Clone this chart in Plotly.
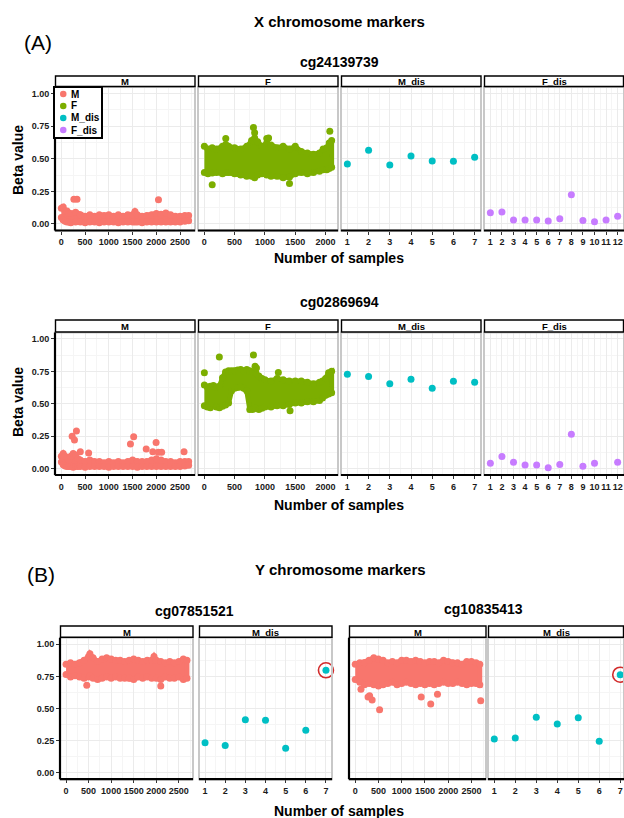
import plotly.graph_objects as go

W, H = 624, 818

COLORS = {"M": "#F8766D", "F": "#7CAE00", "M_dis": "#00BFC4", "F_dis": "#C77CFF"}
legend_names = ["M", "F", "M_dis", "F_dis"]

# ---------------- data ----------------
# Dense panels: upper / lower envelope of the point cloud per sample bin, plus isolated points.
# (A) cg24139739
a1_m_x = [1, 40, 80, 120, 160, 200, 300, 400, 500, 600, 700, 800, 900, 1000, 1100, 1200,
          1300, 1400, 1500, 1550, 1600, 1700, 1800, 1900, 2000, 2100, 2200, 2300, 2400, 2500, 2600, 2680]
a1_m_hi = [0.12, 0.13, 0.10, 0.10, 0.08, 0.08, 0.09, 0.07, 0.06, 0.07, 0.06, 0.07, 0.065, 0.07, 0.06, 0.07,
           0.06, 0.07, 0.07, 0.095, 0.07, 0.06, 0.065, 0.07, 0.08, 0.075, 0.085, 0.07, 0.06, 0.06, 0.065, 0.065]
a1_m_lo = [0.05, 0.03, 0.02, 0.015, 0.015, 0.01, 0.015, 0.015, 0.01, 0.015, 0.015, 0.01, 0.015, 0.015, 0.015, 0.01,
           0.015, 0.015, 0.015, 0.015, 0.015, 0.01, 0.015, 0.015, 0.015, 0.015, 0.015, 0.015, 0.015, 0.015, 0.02, 0.025]
a1_m_out_x = [265, 330, 2045]
a1_m_out_y = [0.19, 0.19, 0.185]

a1_f_x = [1, 60, 130, 200, 300, 354, 400, 500, 600, 700, 780, 830, 880, 950, 1030, 1100, 1200, 1300,
          1405, 1500, 1600, 1700, 1800, 1900, 1960, 2020, 2060, 2100]
a1_f_hi = [0.595, 0.575, 0.585, 0.575, 0.595, 0.61, 0.595, 0.585, 0.575, 0.595, 0.64, 0.66, 0.63, 0.595,
           0.62, 0.605, 0.585, 0.595, 0.575, 0.595, 0.555, 0.545, 0.535, 0.545, 0.575, 0.585, 0.62, 0.64]
a1_f_lo = [0.395, 0.385, 0.39, 0.395, 0.385, 0.395, 0.395, 0.385, 0.375, 0.365, 0.365, 0.355, 0.375, 0.385,
           0.375, 0.365, 0.365, 0.355, 0.36, 0.385, 0.395, 0.385, 0.395, 0.405, 0.415, 0.415, 0.425, 0.435]
a1_f_out_x = [130, 354, 810, 830, 1030, 1060, 1405, 2070]
a1_f_out_y = [0.30, 0.655, 0.74, 0.70, 0.655, 0.66, 0.31, 0.71]

a1_mdis_x = [1, 2, 3, 4, 5, 6, 7]
a1_mdis_y = [0.46, 0.565, 0.452, 0.522, 0.483, 0.48, 0.511]
a1_fdis_x = [1, 2, 3, 4, 5, 6, 7, 8, 9, 10, 11, 12]
a1_fdis_y = [0.087, 0.092, 0.031, 0.031, 0.031, 0.023, 0.041, 0.224, 0.026, 0.018, 0.031, 0.059]

# (A) cg02869694
a2_m_x = [1, 40, 80, 120, 160, 200, 250, 300, 350, 400, 500, 600, 700, 800, 900, 1000, 1100, 1200, 1300,
          1400, 1500, 1600, 1700, 1800, 1900, 2000, 2100, 2200, 2300, 2400, 2500, 2600, 2680]
a2_m_hi = [0.095, 0.115, 0.095, 0.075, 0.065, 0.095, 0.115, 0.105, 0.075, 0.065, 0.055, 0.065, 0.055, 0.055,
           0.045, 0.055, 0.045, 0.055, 0.045, 0.055, 0.065, 0.055, 0.055, 0.055, 0.065, 0.075, 0.065, 0.055,
           0.055, 0.045, 0.055, 0.055, 0.055]
a2_m_lo = [0.05, 0.03, 0.02, 0.015, 0.015, 0.015, 0.01, 0.015, 0.015, 0.015, 0.01, 0.015, 0.015, 0.015,
           0.015, 0.01, 0.015, 0.015, 0.015, 0.015, 0.015, 0.01, 0.015, 0.015, 0.015, 0.015, 0.015, 0.015,
           0.015, 0.015, 0.015, 0.02, 0.025]
a2_m_out_x = [228, 277, 318, 400, 575, 1455, 1523, 1787, 1925, 1995, 2040, 2112, 2583]
a2_m_out_y = [0.25, 0.22, 0.29, 0.13, 0.12, 0.19, 0.245, 0.15, 0.13, 0.20, 0.125, 0.125, 0.13]

a2_f_x = [1, 50, 100, 150, 200, 250, 300, 350, 400, 450, 500, 550, 600, 650, 700, 750, 800, 850, 900,
          950, 1000, 1100, 1200, 1300, 1400, 1500, 1600, 1700, 1800, 1900, 1950, 2000, 2050, 2100]
a2_f_hi = [0.645, 0.63, 0.635, 0.64, 0.63, 0.635, 0.70, 0.745, 0.755, 0.755, 0.755, 0.76, 0.765, 0.755,
           0.765, 0.755, 0.745, 0.74, 0.715, 0.695, 0.685, 0.675, 0.695, 0.685, 0.675, 0.675, 0.675, 0.665,
           0.655, 0.665, 0.675, 0.695, 0.74, 0.75]
a2_f_lo = [0.485, 0.475, 0.47, 0.485, 0.475, 0.47, 0.48, 0.49, 0.505, 0.6, 0.62, 0.625, 0.63, 0.62,
           0.6, 0.455, 0.455, 0.465, 0.455, 0.465, 0.475, 0.475, 0.485, 0.485, 0.495, 0.505, 0.505, 0.515,
           0.515, 0.525, 0.545, 0.565, 0.575, 0.585]
a2_f_out_x = [1, 248, 810, 837, 860, 1221, 1414]
a2_f_out_y = [0.74, 0.86, 0.876, 0.79, 0.775, 0.742, 0.445]

a2_mdis_x = [1, 2, 3, 4, 5, 6, 7]
a2_mdis_y = [0.727, 0.711, 0.654, 0.69, 0.619, 0.673, 0.665]
a2_fdis_x = [1, 2, 3, 4, 5, 6, 7, 8, 9, 10, 12]
a2_fdis_y = [0.041, 0.093, 0.049, 0.028, 0.028, 0.005, 0.031, 0.265, 0.018, 0.041, 0.049]

# (B) cg07851521
b1_m_x = [1, 100, 200, 300, 400, 500, 530, 600, 700, 800, 900, 1000, 1100, 1200, 1300, 1400, 1500,
          1600, 1700, 1800, 1900, 1950, 2000, 2100, 2200, 2300, 2400, 2500, 2600, 2680]
b1_m_hi = [0.845, 0.855, 0.845, 0.855, 0.875, 0.905, 0.925, 0.895, 0.865, 0.885, 0.895, 0.885, 0.875, 0.875,
           0.865, 0.875, 0.885, 0.875, 0.865, 0.875, 0.875, 0.905, 0.875, 0.865, 0.855, 0.865, 0.855, 0.865,
           0.885, 0.875]
b1_m_lo = [0.765, 0.745, 0.755, 0.745, 0.735, 0.745, 0.755, 0.735, 0.725, 0.735, 0.745, 0.735, 0.745, 0.735,
           0.735, 0.735, 0.725, 0.745, 0.735, 0.745, 0.735, 0.745, 0.735, 0.725, 0.745, 0.735, 0.735, 0.745,
           0.725, 0.735]
b1_m_out_x = [460, 2100]
b1_m_out_y = [0.68, 0.675]
b1_mdis_x = [1, 2, 3, 4, 5, 6, 7]
b1_mdis_y = [0.234, 0.213, 0.413, 0.408, 0.19, 0.33, 0.797]

# (B) cg10835413
b2_m_x = [1, 100, 200, 300, 400, 500, 600, 700, 800, 900, 1000, 1100, 1200, 1300, 1400, 1500, 1600,
          1700, 1800, 1900, 2000, 2100, 2200, 2300, 2400, 2500, 2600, 2680]
b2_m_hi = [0.845, 0.855, 0.855, 0.875, 0.895, 0.885, 0.875, 0.855, 0.865, 0.855, 0.875, 0.875, 0.865, 0.875,
           0.865, 0.855, 0.865, 0.865, 0.855, 0.875, 0.865, 0.855, 0.855, 0.845, 0.865, 0.865, 0.855, 0.845]
b2_m_lo = [0.725, 0.705, 0.685, 0.695, 0.685, 0.675, 0.685, 0.695, 0.705, 0.685, 0.695, 0.705, 0.695, 0.685,
           0.695, 0.685, 0.695, 0.685, 0.695, 0.705, 0.695, 0.695, 0.705, 0.695, 0.685, 0.695, 0.695, 0.685]
b2_m_out_x = [124, 277, 310, 365, 525, 1420, 1625, 1770, 2700]
b2_m_out_y = [0.65, 0.59, 0.60, 0.566, 0.49, 0.59, 0.535, 0.61, 0.56]
b2_mdis_x = [1, 2, 3, 4, 5, 6, 7]
b2_mdis_y = [0.262, 0.27, 0.431, 0.38, 0.428, 0.245, 0.763]

highlight_index = 6  # the circled M_dis sample (sample 7)

# tick labels
y_ticks = [0, 0.25, 0.5, 0.75, 1.0]
y_ticktext = ["0.00", "0.25", "0.50", "0.75", "1.00"]
m_ticks = [0, 500, 1000, 1500, 2000, 2500]
f_ticks = [0, 500, 1000, 1500, 2000]
mdis_ticks = [1, 2, 3, 4, 5, 6, 7]
fdis_ticks = [1, 2, 3, 4, 5, 6, 7, 8, 9, 10, 11, 12]

# ---------------- layout helpers ----------------
def fx(p):
    return p / W


def fy(p):
    return 1 - p / H


FONT = "Liberation Sans, Arial, sans-serif"
ROW_A1 = (76, 87, 230.5)
ROW_A2 = (320, 332.5, 475)
ROW_B = (626, 637.8, 779.2)

panels = [
    dict(kind="dense", x=(55, 195), row=ROW_A1, strip="M", c="M", rng=(-133, 2814), ticks=m_ticks,
         minor=[250, 750, 1250, 1750, 2250, 2750], ylab=True, left=True,
         data=(a1_m_x, a1_m_hi, a1_m_lo, a1_m_out_x, a1_m_out_y)),
    dict(kind="dense", x=(198, 338), row=ROW_A1, strip="F", c="F", rng=(-104, 2205), ticks=f_ticks,
         minor=[250, 750, 1250, 1750], ylab=False, left=False,
         data=(a1_f_x, a1_f_hi, a1_f_lo, a1_f_out_x, a1_f_out_y)),
    dict(kind="dis", x=(341, 481), row=ROW_A1, strip="M_dis", c="M_dis", rng=(0.7, 7.3), ticks=mdis_ticks,
         minor=[1.5, 2.5, 3.5, 4.5, 5.5, 6.5], ylab=False, left=False,
         data=(a1_mdis_x, a1_mdis_y)),
    dict(kind="dis", x=(484, 624), row=ROW_A1, strip="F_dis", c="F_dis", rng=(0.45, 12.55), ticks=fdis_ticks,
         minor=[1.5 + i for i in range(11)], ylab=False, left=False,
         data=(a1_fdis_x, a1_fdis_y)),
    dict(kind="dense", x=(55, 195), row=ROW_A2, strip="M", c="M", rng=(-133, 2814), ticks=m_ticks,
         minor=[250, 750, 1250, 1750, 2250, 2750], ylab=True, left=True,
         data=(a2_m_x, a2_m_hi, a2_m_lo, a2_m_out_x, a2_m_out_y)),
    dict(kind="dense", x=(198, 338), row=ROW_A2, strip="F", c="F", rng=(-104, 2205), ticks=f_ticks,
         minor=[250, 750, 1250, 1750], ylab=False, left=False,
         data=(a2_f_x, a2_f_hi, a2_f_lo, a2_f_out_x, a2_f_out_y)),
    dict(kind="dis", x=(341, 481), row=ROW_A2, strip="M_dis", c="M_dis", rng=(0.7, 7.3), ticks=mdis_ticks,
         minor=[1.5, 2.5, 3.5, 4.5, 5.5, 6.5], ylab=False, left=False,
         data=(a2_mdis_x, a2_mdis_y)),
    dict(kind="dis", x=(484, 624), row=ROW_A2, strip="F_dis", c="F_dis", rng=(0.45, 12.55), ticks=fdis_ticks,
         minor=[1.5 + i for i in range(11)], ylab=False, left=False,
         data=(a2_fdis_x, a2_fdis_y)),
    dict(kind="dense", x=(60, 193), row=ROW_B, strip="M", c="M", rng=(-133, 2814), ticks=m_ticks,
         minor=[250, 750, 1250, 1750, 2250, 2750], ylab=True, left=True,
         data=(b1_m_x, b1_m_hi, b1_m_lo, b1_m_out_x, b1_m_out_y)),
    dict(kind="dis", x=(199, 332), row=ROW_B, strip="M_dis", c="M_dis", rng=(0.7, 7.3), ticks=mdis_ticks,
         minor=[1.5, 2.5, 3.5, 4.5, 5.5, 6.5], ylab=False, left=False,
         data=(b1_mdis_x, b1_mdis_y), circle=True),
    dict(kind="dense", x=(349, 486), row=ROW_B, strip="M", c="M", rng=(-133, 2814), ticks=m_ticks,
         minor=[250, 750, 1250, 1750, 2250, 2750], ylab=False, left=True,
         data=(b2_m_x, b2_m_hi, b2_m_lo, b2_m_out_x, b2_m_out_y)),
    dict(kind="dis", x=(488, 624), row=ROW_B, strip="M_dis", c="M_dis", rng=(0.7, 7.18), ticks=mdis_ticks,
         minor=[1.5, 2.5, 3.5, 4.5, 5.5, 6.5], ylab=False, left=False,
         data=(b2_mdis_x, b2_mdis_y), circle=True),
]

fig = go.Figure()
layout = {}
shapes = []
annotations = []
tickfont = dict(family=FONT, size=9, color="#1a1a1a", weight="bold")

for i, p in enumerate(panels, start=1):
    sfx = "" if i == 1 else str(i)
    xa, ya = "x" + sfx, "y" + sfx
    col = COLORS[p["c"]]
    strip_top, ptop, pbot = p["row"]
    x0, x1 = p["x"]

    layout["xaxis" + sfx] = dict(
        domain=[fx(x0), fx(x1)], range=list(p["rng"]), anchor=ya,
        tickmode="array", tickvals=p["ticks"], ticktext=[str(t) for t in p["ticks"]], tickangle=0,
        ticks="outside", ticklen=3, tickwidth=1, tickcolor="#333333", tickfont=tickfont,
        showgrid=True, gridcolor="#ebebeb", gridwidth=1, zeroline=False, showline=False,
        minor=dict(tickvals=p["minor"], showgrid=True, gridcolor="#f5f5f5", gridwidth=0.6, ticks=""),
        fixedrange=True,
    )
    layout["yaxis" + sfx] = dict(
        domain=[fy(pbot), fy(ptop)], range=[-0.05, 1.05], anchor=xa,
        tickmode="array", tickvals=y_ticks, ticktext=y_ticktext,
        showticklabels=p["ylab"], ticks="outside" if p["ylab"] else "", ticklen=3, tickwidth=1,
        tickcolor="#333333", tickfont=tickfont,
        showgrid=True, gridcolor="#ebebeb", gridwidth=1, zeroline=False, showline=False,
        minor=dict(tickvals=[0.125, 0.375, 0.625, 0.875], showgrid=True, gridcolor="#f5f5f5",
                   gridwidth=0.6, ticks=""),
        fixedrange=True,
    )

    if p["kind"] == "dense":
        xs, hi, lo, ox, oy = p["data"]
        fig.add_trace(go.Scatter(
            x=xs + xs[::-1], y=hi + lo[::-1], mode="lines", fill="toself", fillcolor=col,
            line=dict(color=col, width=5), xaxis=xa, yaxis=ya, showlegend=False, hoverinfo="skip"))
        fig.add_trace(go.Scatter(
            x=xs + xs, y=hi + lo, mode="markers", marker=dict(color=col, size=7),
            xaxis=xa, yaxis=ya, name=p["c"], showlegend=False))
        fig.add_trace(go.Scatter(
            x=ox, y=oy, mode="markers", marker=dict(color=col, size=7),
            xaxis=xa, yaxis=ya, name=p["c"], showlegend=False))
    else:
        xs, ys = p["data"]
        fig.add_trace(go.Scatter(
            x=xs, y=ys, mode="markers", marker=dict(color=col, size=7),
            xaxis=xa, yaxis=ya, name=p["c"], showlegend=False))
        if p.get("circle"):
            fig.add_trace(go.Scatter(
                x=[xs[highlight_index]], y=[ys[highlight_index]], mode="markers",
                marker=dict(symbol="circle-open", size=15, color="#d22b2b", line=dict(color="#d22b2b", width=1.6)),
                xaxis=xa, yaxis=ya, showlegend=False, cliponaxis=False))

    # panel border (grey)
    shapes.append(dict(type="rect", xref=xa + " domain", yref=ya + " domain", x0=0, x1=1, y0=0, y1=1,
                       line=dict(color="#c8c8c8", width=2), fillcolor="rgba(0,0,0,0)", layer="above"))
    # black axis lines
    shapes.append(dict(type="line", xref=xa + " domain", yref=ya + " domain", x0=0, x1=1, y0=0, y1=0,
                       line=dict(color="black", width=2.2), layer="above"))
    if p["left"]:
        shapes.append(dict(type="line", xref=xa + " domain", yref=ya + " domain", x0=0, x1=0, y0=0, y1=1,
                           line=dict(color="black", width=2.2), layer="above"))
    # strip
    shapes.append(dict(type="rect", xref="paper", yref="paper", x0=fx(x0 + 0.5), x1=fx(min(x1, 623.5)),
                       y0=fy(ptop - 0.5), y1=fy(strip_top), line=dict(color="black", width=1.4),
                       fillcolor="white", layer="above"))
    annotations.append(dict(text=p["strip"], xref="paper", yref="paper", x=fx((x0 + x1) / 2),
                            y=fy((strip_top + ptop) / 2 + 0.5), xanchor="center", yanchor="middle",
                            showarrow=False, font=dict(family=FONT, size=9.5, color="black", weight="bold")))

# ---- legend box (top-left of first panel) ----
LEG_X0, LEG_X1, LEG_Y0, LEG_Y1 = 54, 102, 87, 138
shapes.append(dict(type="rect", xref="paper", yref="paper", x0=fx(LEG_X0), x1=fx(LEG_X1),
                   y0=fy(LEG_Y1), y1=fy(LEG_Y0), line=dict(color="black", width=2),
                   fillcolor="white", layer="above"))
for k, nm in enumerate(legend_names):
    cy = 94 + 12 * k
    shapes.append(dict(type="circle", xref="paper", yref="paper", x0=fx(60), x1=fx(66.5),
                       y0=fy(cy + 3.2), y1=fy(cy - 3.2), line=dict(color=COLORS[nm], width=0),
                       fillcolor=COLORS[nm], layer="above"))
    annotations.append(dict(text=nm, xref="paper", yref="paper", x=fx(69), y=fy(cy), xanchor="left",
                            yanchor="middle", showarrow=False,
                            font=dict(family=FONT, size=10, color="black", weight="bold")))


def text(t, x, y, size, bold=True, angle=0):
    annotations.append(dict(text=t, xref="paper", yref="paper", x=fx(x), y=fy(y), xanchor="center",
                            yanchor="middle", showarrow=False, textangle=angle,
                            font=dict(family=FONT, size=size, color="black",
                                      weight="bold" if bold else "normal")))


text("X chromosome markers", 340, 22, 15)
text("(A)", 38, 43, 21, bold=False)
text("cg24139739", 339, 62, 14)
text("Beta value", 18, 160, 14, angle=-90)
text("Number of samples", 339, 258, 14)
text("cg02869694", 339, 302, 14)
text("Beta value", 18, 402, 14, angle=-90)
text("Number of samples", 339, 505, 14)
text("(B)", 41, 574, 21, bold=False)
text("Y chromosome markers", 341, 569, 15)
text("cg07851521", 194, 611, 14)
text("cg10835413", 483, 609, 14)
text("Number of samples", 339, 811, 14)

fig.update_layout(
    width=W, height=H, margin=dict(l=0, r=0, t=0, b=0),
    paper_bgcolor="white", plot_bgcolor="white",
    shapes=shapes, annotations=annotations,
    showlegend=False,
    **layout,
)

fig.write_html("out.html", config={"displayModeBar": False},
               post_script="document.body.style.margin='0';")
